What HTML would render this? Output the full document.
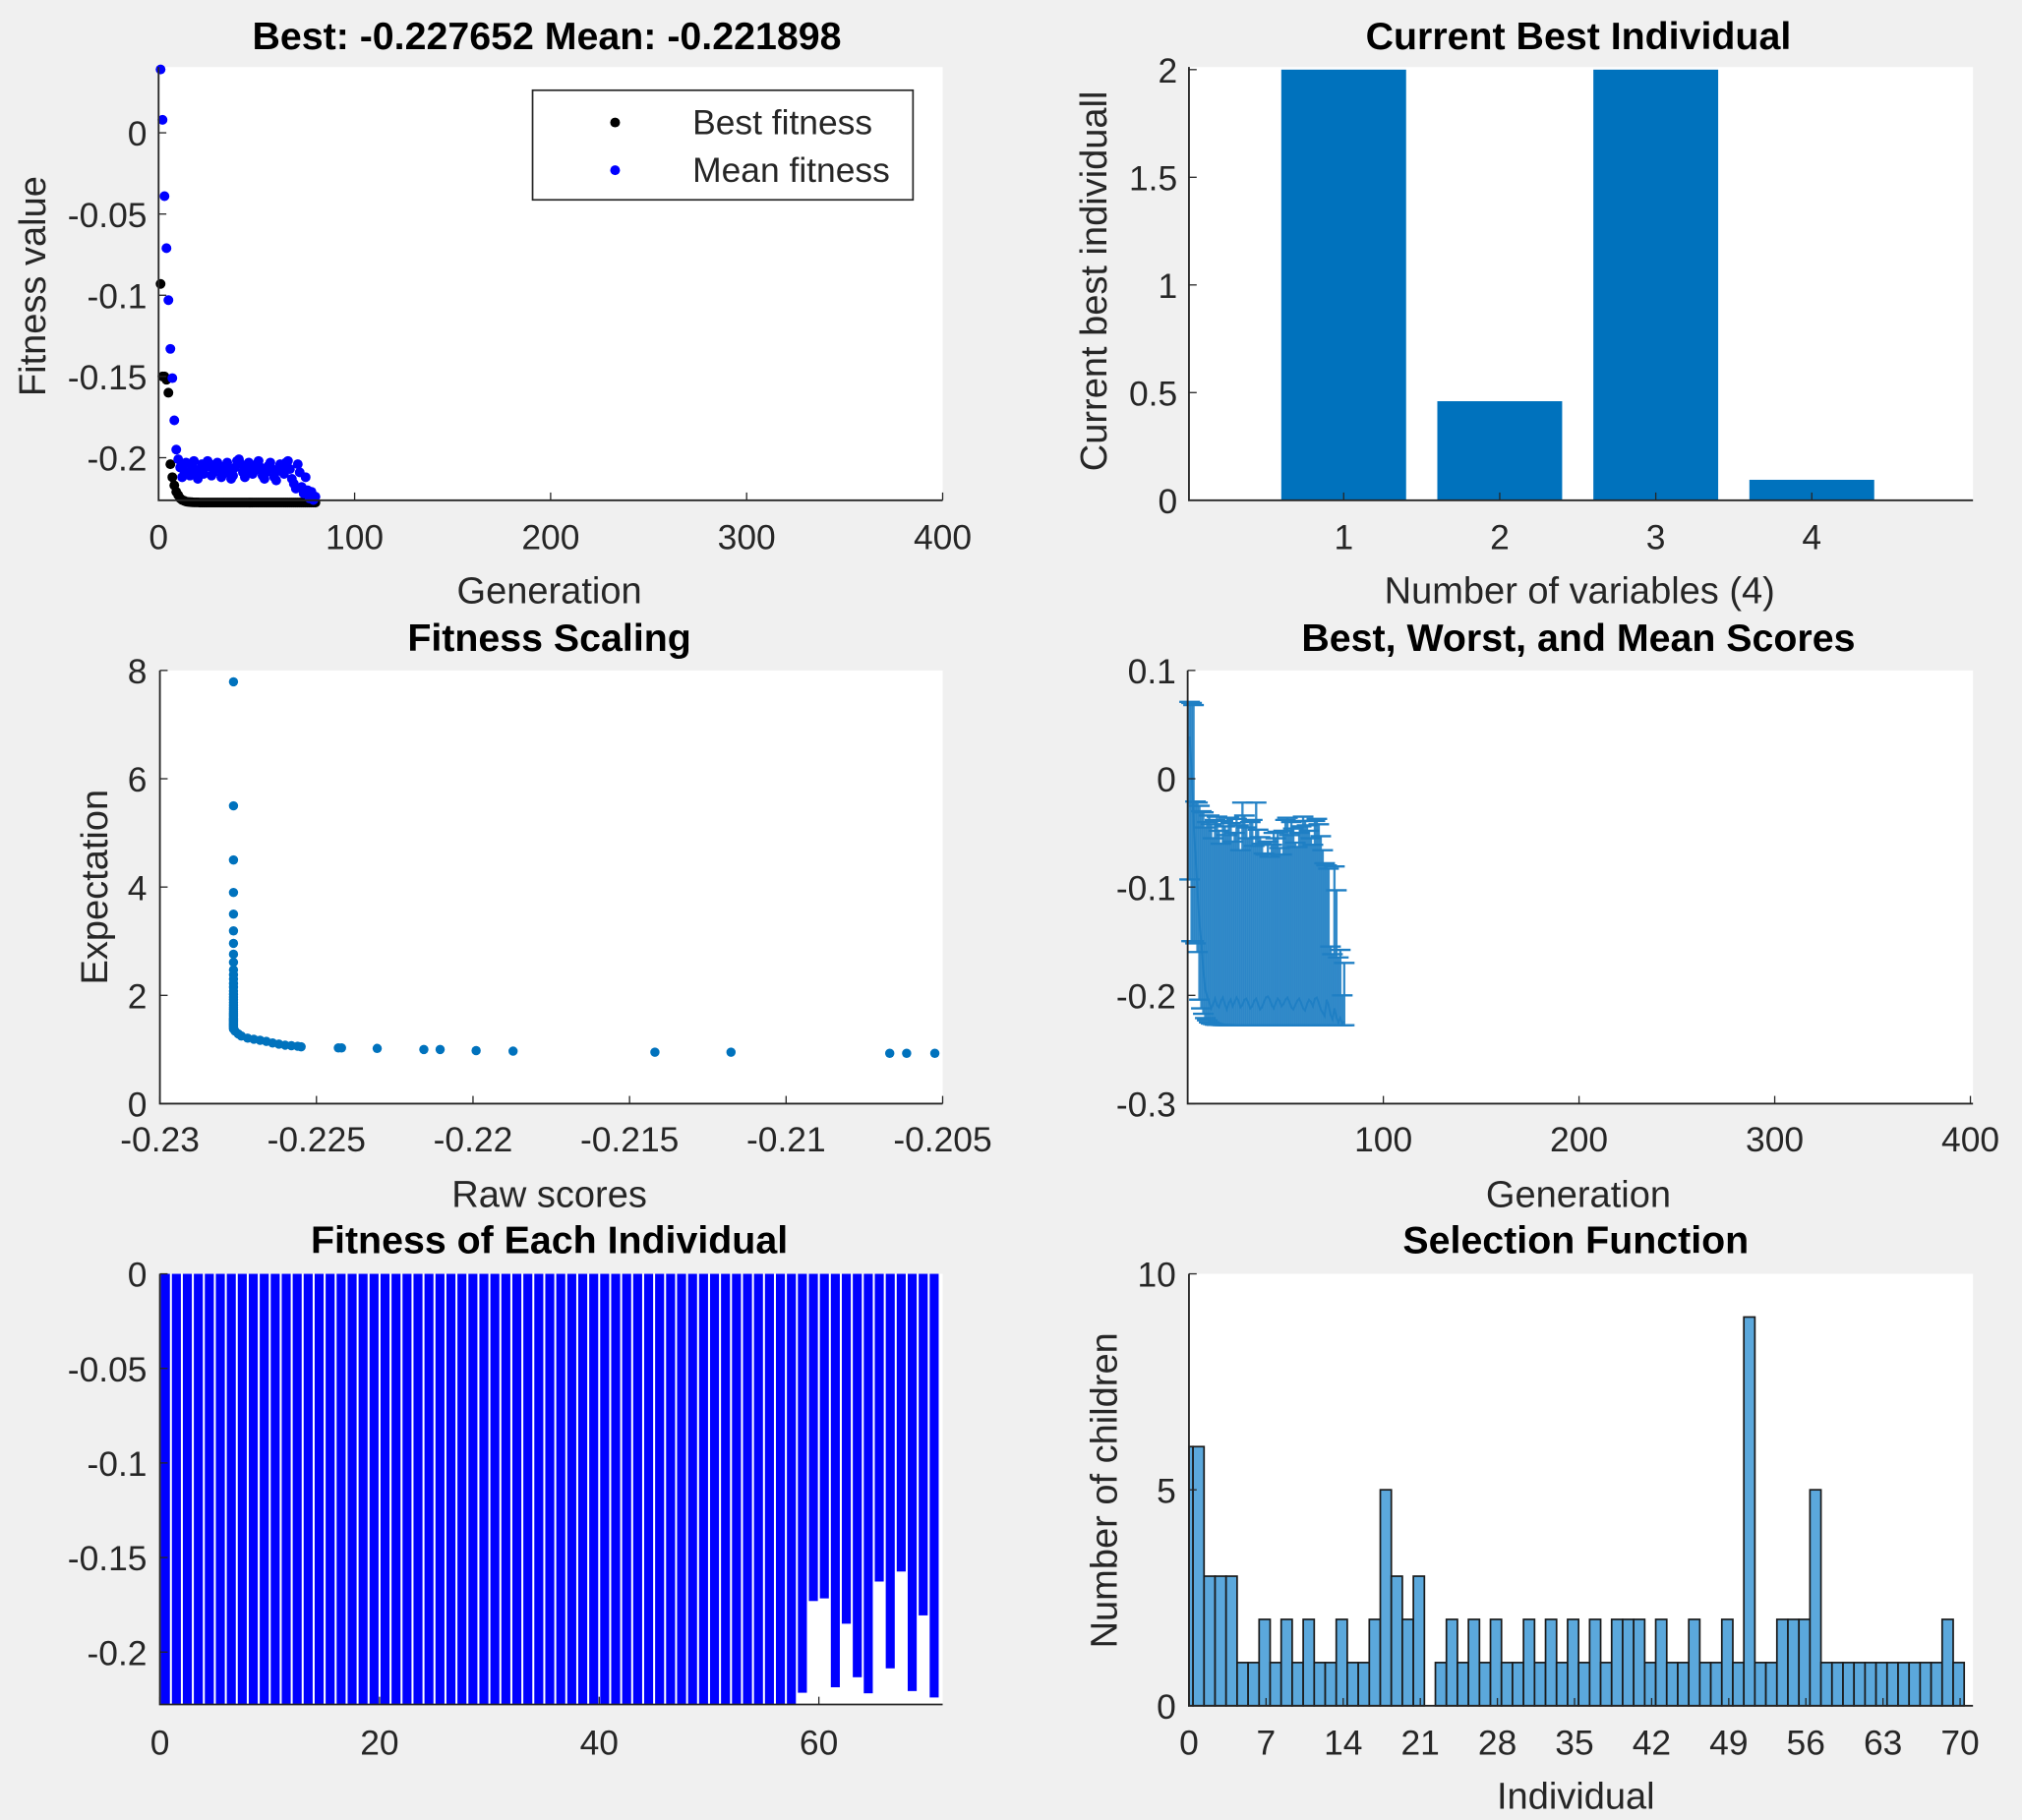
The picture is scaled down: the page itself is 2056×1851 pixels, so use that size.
<!DOCTYPE html>
<html><head><meta charset="utf-8"><title>GA plots</title>
<style>
html,body{margin:0;padding:0;background:#f0f0f0;}
svg{display:block;font-family:"Liberation Sans",Arial,sans-serif;}
</style></head>
<body>
<svg id="fig" width="2056" height="1851" viewBox="0 0 1568 1411.6" preserveAspectRatio="none" xmlns="http://www.w3.org/2000/svg">
<rect x="0" y="0" width="1568" height="1411.6" fill="#f0f0f0"/>
</svg>
<script>
// ---------- DATA ----------
const genMean = [0.039,0.008,-0.039,-0.071,-0.103,-0.133,-0.151,-0.177,-0.195,-0.201,
-0.206,-0.212,-0.208,-0.203,-0.209,-0.211,-0.205,-0.202,-0.208,-0.213,
-0.207,-0.204,-0.210,-0.206,-0.202,-0.205,-0.211,-0.209,-0.204,-0.203,
-0.207,-0.212,-0.210,-0.205,-0.203,-0.208,-0.213,-0.211,-0.206,-0.202,
-0.201,-0.204,-0.209,-0.212,-0.207,-0.203,-0.205,-0.210,-0.208,-0.204,
-0.202,-0.206,-0.211,-0.213,-0.209,-0.205,-0.203,-0.207,-0.212,-0.214,
-0.208,-0.204,-0.206,-0.210,-0.203,-0.202,-0.207,-0.213,-0.216,-0.219,
-0.204,-0.209,-0.218,-0.222,-0.212,-0.220,-0.225,-0.221,-0.226,-0.224];
const genBest = [-0.093,-0.150,-0.150,-0.152,-0.160,-0.204,-0.212,-0.217,-0.221,-0.223,
-0.225,-0.226,-0.2265,-0.227,-0.2272,-0.2273,-0.2274,-0.2275,-0.2275,-0.2275,
-0.2276,-0.2276,-0.2276,-0.2276,-0.2276,-0.2276,-0.2276,-0.2276,-0.2276,-0.2276,
-0.2276,-0.2276,-0.2276,-0.2276,-0.2276,-0.2276,-0.2276,-0.2276,-0.2276,-0.2276,
-0.2276,-0.2276,-0.2276,-0.2276,-0.2276,-0.2276,-0.2276,-0.2276,-0.2276,-0.2276,
-0.2276,-0.2276,-0.2276,-0.2276,-0.2276,-0.2276,-0.2276,-0.2276,-0.2276,-0.2276,
-0.2276,-0.2276,-0.2276,-0.2276,-0.2276,-0.2276,-0.2276,-0.2276,-0.2276,-0.2276,
-0.2276,-0.2276,-0.2276,-0.2276,-0.2276,-0.2276,-0.2276,-0.2276,-0.2276,-0.2276];
const p1XTicks = [0,100,200,300,400];
const p1YTicks = [0,-0.05,-0.1,-0.15,-0.2];
const p1YLabels = ["0","-0.05","-0.1","-0.15","-0.2"];

const varIndex = [1,2,3,4];
const varValue = [2,0.46,2,0.095];
const p2YTicks = [0,0.5,1,1.5,2];
const p2YLabels = ["0","0.5","1","1.5","2"];

const rawScores = [-0.22765,-0.22765,-0.22765,-0.22765,-0.22765,-0.22765,-0.22765,-0.22765,-0.22765,-0.22765,
-0.22765,-0.22765,-0.22765,-0.22765,-0.22765,-0.22765,-0.22765,-0.22765,-0.22765,-0.22765,
-0.22765,-0.22765,-0.22765,-0.22765,-0.22765,-0.22765,-0.22765,-0.22765,-0.22765,-0.22765,
-0.22765,-0.22765,-0.22765,-0.22765,-0.22765,-0.22765,-0.22765,-0.2276,-0.2275,-0.2274,
-0.2272,-0.2270,-0.2268,-0.2266,-0.2264,-0.2262,-0.2260,-0.2258,-0.2256,-0.22549,
-0.2243,-0.2242,-0.22306,-0.22157,-0.22105,-0.2199,-0.21872,-0.21419,-0.21176,-0.20669,-0.20615,-0.20525];
const expectation = [7.79,5.5,4.5,3.9,3.5,3.19,2.96,2.76,2.61,2.47,
2.38,2.3,2.22,2.15,2.08,2.02,1.97,1.92,1.87,1.82,
1.78,1.74,1.70,1.67,1.64,1.61,1.58,1.56,1.54,1.52,
1.50,1.48,1.46,1.44,1.42,1.40,1.38,1.34,1.29,1.25,
1.21,1.19,1.17,1.15,1.12,1.10,1.08,1.07,1.06,1.05,
1.03,1.03,1.02,1.0,1.0,0.98,0.97,0.95,0.95,0.93,0.93,0.93];
const p3XTicks = [-0.23,-0.225,-0.22,-0.215,-0.21,-0.205];
const p3XLabels = ["-0.23","-0.225","-0.22","-0.215","-0.21","-0.205"];
const p3YTicks = [0,2,4,6,8];

const scoreWorst = [0.071,0.070,0.068,-0.021,-0.022,-0.025,-0.030,-0.031,-0.045,-0.040,
-0.034,-0.042,-0.055,-0.038,-0.035,-0.048,-0.060,-0.039,-0.044,-0.052,
-0.036,-0.041,-0.058,-0.050,-0.037,-0.043,-0.066,-0.022,-0.034,-0.045,
-0.055,-0.040,-0.038,-0.062,-0.022,-0.047,-0.054,-0.060,-0.069,-0.070,
-0.058,-0.072,-0.061,-0.050,-0.055,-0.049,-0.064,-0.070,-0.048,-0.038,
-0.036,-0.052,-0.040,-0.046,-0.059,-0.063,-0.050,-0.044,-0.035,-0.039,
-0.043,-0.048,-0.055,-0.061,-0.039,-0.037,-0.042,-0.053,-0.066,-0.078,
-0.080,-0.083,-0.155,-0.162,-0.081,-0.103,-0.165,-0.158,-0.200,-0.170];
const p4XTicks = [100,200,300,400];
const p4YTicks = [0.1,0,-0.1,-0.2,-0.3];
const p4YLabels = ["0.1","0","-0.1","-0.2","-0.3"];

const indivFitness = [];
const fullCount = 58;
const bottomScore = -0.2277;
const tailFitness = [-0.2215,-0.173,-0.1716,-0.2186,-0.185,-0.2133,-0.2218,-0.1627,-0.2086,-0.1574,-0.2206,-0.1806,-0.224];
const p5XTicks = [0,20,40,60];
const p5YTicks = [0,-0.05,-0.1,-0.15,-0.2];
const p5YLabels = ["0","-0.05","-0.1","-0.15","-0.2"];

const childCounts = [6,6,3,3,3,1,1,2,1,2,1,2,1,1,2,1,1,2,5,3,2,3,0,1,2,1,2,1,2,1,1,2,1,2,1,2,1,2,1,2,2,2,1,2,1,1,2,1,1,2,1,9,1,1,2,2,2,5,1,1,1,1,1,1,1,1,1,1,1,2,1];
const p6XTicks = [0,7,14,21,28,35,42,49,56,63,70];
const p6YTicks = [0,5,10];

// ---------- DRAWING ----------
const NS = "http://www.w3.org/2000/svg";
const fig = document.getElementById('fig');
const TICK=27, LAB=29, TIT=30;
function mk(tag, parent){ const e=document.createElementNS(NS,tag); parent.appendChild(e); return e; }
function lin(d0,d1,r0,r1){ return v => r0 + (v-d0)*(r1-r0)/(d1-d0); }

function axesBox(name, x0,y0,x1,y1){
  const g = mk('g', fig);
  
  
  const r = mk('rect', g);
  r.setAttribute('x',x0); r.setAttribute('y',y0); r.setAttribute('width',x1-x0); r.setAttribute('height',y1-y0); r.setAttribute('fill','#fff');
  
  
  return g;
}
function axisLines(g,x0,y0,x1,y1){
  const l = mk('path', g);
  l.setAttribute('d',`M${x0},${y0}V${y1}H${x1}`); l.setAttribute('stroke','#262626'); l.setAttribute('stroke-width','1.4'); l.setAttribute('fill','none');
  
  
}
function txt(g,x,y,s,size,anchor,bold,rot){
  const t = mk('text', g);
  t.setAttribute('x',x); t.setAttribute('y',y); t.textContent=s;
  t.setAttribute('font-size',size); t.setAttribute('text-anchor',anchor||'middle'); t.setAttribute('fill', bold?'#000':'#262626');
  if(bold) t.setAttribute('font-weight','bold');
  if(rot) t.setAttribute('transform',`rotate(-90 ${x} ${y})`);
  return t;
}
function xTicks(g, ticks, labels, sx, y1, ly){
  ticks.forEach((v,i)=>{
    const x=sx(v);
    const tk=mk('line',g); tk.setAttribute('x1',x); tk.setAttribute('x2',x); tk.setAttribute('y1',y1); tk.setAttribute('y2',y1-6); tk.setAttribute('stroke','#262626');
    
    
    const t=txt(g,x,ly,labels?labels[i]:String(v),TICK);
    
    
  });
}
function yTicks(g, ticks, labels, sy, x0, lx){
  ticks.forEach((v,i)=>{
    const y=sy(v);
    const tk=mk('line',g); tk.setAttribute('x1',x0); tk.setAttribute('x2',x0+6); tk.setAttribute('y1',y); tk.setAttribute('y2',y); tk.setAttribute('stroke','#262626');
    
    
    const t=txt(g,lx,y+10,labels?labels[i]:String(v),TICK,'end');
    
    
  });
}
function dot(g,x,y,r,c,name){
  const d=mk('circle',g); d.setAttribute('cx',x); d.setAttribute('cy',y); d.setAttribute('r',r); d.setAttribute('fill',c);
  
  
}

// ---- Panel 1 ----
(function(){
  const x0=123,x1=731,y0=52,y1=388;
  const g=axesBox('fitness-value-plot',x0,y0,x1,y1);
  const sx=lin(0,400,x0,x1), sy=lin(0,-0.2,103,355);
  genBest.forEach((v,i)=>dot(g,sx(i+1),sy(v),3.8,'#000','best-fitness-point'));
  genMean.forEach((v,i)=>dot(g,sx(i+1),sy(v),3.8,'#0000ff','mean-fitness-point'));
  axisLines(g,x0,y0,x1,y1);
  xTicks(g,p1XTicks,null,sx,y1,426);
  yTicks(g,p1YTicks,p1YLabels,sy,x0,114);
  const t=txt(g,424,38,'Best: -0.227652 Mean: -0.221898',TIT,'middle',true);  
  const xl=txt(g,426,468,'Generation',LAB);  
  const yl=txt(g,35,222,'Fitness value',LAB,'middle',false,true);  
  const lg=mk('g',g);
  
  
  const lr=mk('rect',lg); lr.setAttribute('x',413); lr.setAttribute('y',70); lr.setAttribute('width',295); lr.setAttribute('height',85); lr.setAttribute('fill','#fff'); lr.setAttribute('stroke','#262626'); lr.setAttribute('stroke-width','1.3');
  
  
  dot(lg,477,95,3.8,'#000','legend-marker-best');
  dot(lg,477,132,3.8,'#0000ff','legend-marker-mean');
  const a=txt(lg,537,104,'Best fitness',TICK,'start');  
  const b=txt(lg,537,141,'Mean fitness',TICK,'start');  
})();

// ---- Panel 2 ----
(function(){
  const x0=922,x1=1530,y0=52,y1=388;
  const g=axesBox('current-best-individual-plot',x0,y0,x1,y1);
  const sx=lin(0,5,x0-1,1526), sy=lin(0,2,y1,54);
  varIndex.forEach((v,i)=>{
    const r=mk('rect',g); const w=0.8*(sx(1)-sx(0));
    r.setAttribute('x',sx(v)-w/2); r.setAttribute('y',sy(varValue[i])); r.setAttribute('width',w); r.setAttribute('height',sy(0)-sy(varValue[i])); r.setAttribute('fill','#0072BD');
    
    
  });
  axisLines(g,x0,y0,x1,y1);
  xTicks(g,varIndex,null,sx,y1,426);
  yTicks(g,p2YTicks,p2YLabels,sy,x0,913);
  const t=txt(g,1224,38,'Current Best Individual',TIT,'middle',true);  
  const xl=txt(g,1225,468,'Number of variables (4)',LAB);  
  const yl=txt(g,858,218,'Current best individuall',LAB,'middle',false,true);  
})();

// ---- Panel 3 ----
(function(){
  const x0=124,x1=731,y0=520,y1=856;
  const g=axesBox('fitness-scaling-plot',x0,y0,x1,y1);
  const sx=lin(-0.23,-0.205,x0,x1), sy=lin(0,8,y1,520);
  rawScores.forEach((v,i)=>dot(g,sx(v),sy(expectation[i]),3.6,'#0072BD','scaling-point'));
  axisLines(g,x0,y0,x1,y1);
  xTicks(g,p3XTicks,p3XLabels,sx,y1,893);
  yTicks(g,p3YTicks,null,sy,x0,114);
  const t=txt(g,426,505,'Fitness Scaling',TIT,'middle',true);  
  const xl=txt(g,426,936,'Raw scores',LAB);  
  const yl=txt(g,83,688,'Expectation',LAB,'middle',false,true);  
})();

// ---- Panel 4 ----
(function(){
  const x0=921,x1=1530,y0=520,y1=856;
  const g=axesBox('best-worst-mean-plot',x0,y0,x1,y1);
  const sx=lin(0,400,x0,1528), sy=lin(0.1,-0.3,520,856);
  const c='#1f7fc4';
  scoreWorst.forEach((w,i)=>{
    const x=sx(i+1), lo=sy(genBest[i]), hi=sy(w);
    const v=mk('line',g); v.setAttribute('x1',x); v.setAttribute('x2',x); v.setAttribute('y1',lo); v.setAttribute('y2',hi); v.setAttribute('stroke',c); v.setAttribute('stroke-width','1.8'); v.setAttribute('opacity','0.9');
    
    
    [lo,hi].forEach(yy=>{
      const cp=mk('line',g); cp.setAttribute('x1',x-8); cp.setAttribute('x2',x+8); cp.setAttribute('y1',yy); cp.setAttribute('y2',yy); cp.setAttribute('stroke',c); cp.setAttribute('stroke-width','1.8');
      
      
    });
  });
  const p=mk('polyline',g);
  p.setAttribute('points',genMean.map((v,i)=>`${sx(i+1)},${sy(Math.max(v,-0.3))}`).join(' '));
  p.setAttribute('fill','none'); p.setAttribute('stroke',c); p.setAttribute('stroke-width','1.5');
  
  
  axisLines(g,x0,y0,x1,y1);
  xTicks(g,p4XTicks,null,sx,y1,893);
  yTicks(g,p4YTicks,p4YLabels,sy,x0,912);
  const t=txt(g,1224,505,'Best, Worst, and Mean Scores',TIT,'middle',true);  
  const xl=txt(g,1224,936,'Generation',LAB);  
})();

// ---- Panel 5 ----
(function(){
  for(let i=0;i<fullCount;i++) indivFitness.push(bottomScore);
  tailFitness.forEach(v=>indivFitness.push(v));
  const x0=124,x1=731,y0=988,y1=1322;
  const g=axesBox('individual-fitness-plot',x0,y0,x1,y1);
  const sx=lin(0,60,x0,635), sy=lin(0,bottomScore,988,1322);
  indivFitness.forEach((v,i)=>{
    const w=0.82*(sx(1)-sx(0));
    const r=mk('rect',g);
    r.setAttribute('x',sx(i+0.5)-w/2); r.setAttribute('y',sy(0)); r.setAttribute('width',w); r.setAttribute('height',sy(v)-sy(0)); r.setAttribute('fill','#0000ff');
    
    
  });
  axisLines(g,x0,y0,x1,y1);
  xTicks(g,p5XTicks,null,sx,y1,1361);
  yTicks(g,p5YTicks,p5YLabels,sy,x0,114);
  const t=txt(g,426,972,'Fitness of Each Individual',TIT,'middle',true);  
})();

// ---- Panel 6 ----
(function(){
  const x0=922,x1=1530,y0=988,y1=1323;
  const g=axesBox('selection-function-plot',x0,y0,x1,y1);
  const sx=lin(0,70,x0,1520), sy=lin(0,10,y1,988);
  childCounts.forEach((v,i)=>{
    const a=Math.max(0,i-0.63), b=i+0.37;
    const r=mk('rect',g);
    r.setAttribute('x',sx(a)); r.setAttribute('y',sy(v)); r.setAttribute('width',sx(b)-sx(a)); r.setAttribute('height',sy(0)-sy(v));
    r.setAttribute('fill','#5ba8dc'); r.setAttribute('stroke','#1a1a1a'); r.setAttribute('stroke-width','1.3');
    
    
  });
  axisLines(g,x0,y0,x1,y1);
  xTicks(g,p6XTicks,null,sx,y1,1361);
  yTicks(g,p6YTicks,null,sy,x0,912);
  const t=txt(g,1222,972,'Selection Function',TIT,'middle',true);  
  const xl=txt(g,1222,1403,'Individual',LAB);  
  const yl=txt(g,866,1156,'Number of children',LAB,'middle',false,true);  
})();
</script>
</body></html>
